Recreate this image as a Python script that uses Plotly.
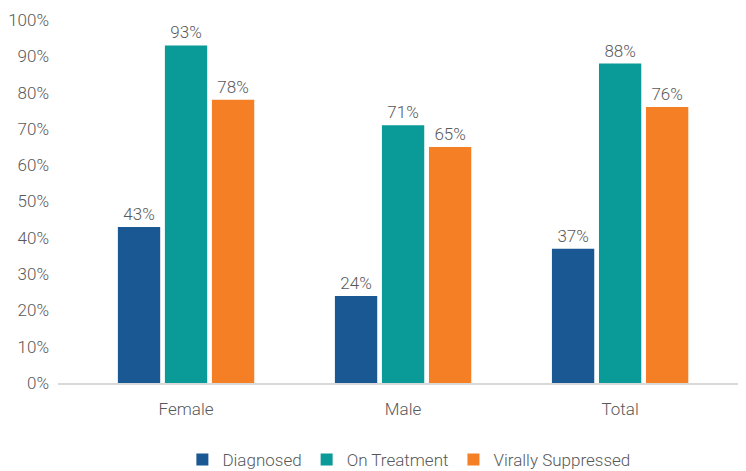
import plotly.graph_objects as go

categories = ["Female", "Male", "Total"]
series_names = ["Diagnosed", "On Treatment", "Virally Suppressed"]
diagnosed = [43, 24, 37]
on_treatment = [93, 71, 88]
virally_suppressed = [78, 65, 76]
colors = ["#1A5894", "#0A9A97", "#F47F24"]
y_ticks = list(range(0, 101, 10))
y_tick_labels = [f"{v}%" for v in y_ticks]

FONT = "Roboto, sans-serif"
GRAY = "#595959"
FW = 300

fig = go.Figure()
for name, vals, col in zip(series_names, [diagnosed, on_treatment, virally_suppressed], colors):
    fig.add_trace(go.Bar(
        x=categories, y=vals, name=name, marker=dict(color=col, line=dict(width=0)),
        texttemplate="%{y}%", textposition="outside", cliponaxis=False,
        textfont=dict(family=FONT, size=17, color=GRAY, weight=FW),
    ))

# page body has an 8px default margin, so the figure is sized to fit the window
fig.update_layout(
    width=738, height=463,
    margin=dict(l=50, r=0, t=12, b=88, autoexpand=False),
    paper_bgcolor="white", plot_bgcolor="white",
    barmode="group", bargap=0.35, bargroupgap=0.1,
    font=dict(family=FONT, size=17, color=GRAY, weight=FW),
    showlegend=True,
    legend=dict(orientation="h", x=0.51, xanchor="center", y=-0.212, yanchor="middle",
                font=dict(family=FONT, size=17, color=GRAY, weight=FW), itemsizing="constant",
                traceorder="normal", itemwidth=30),
    xaxis=dict(type="category", range=[-0.59, 2.58], showgrid=False, showline=True,
               linecolor="#D9D9D9", linewidth=2, ticks="", ticklabelstandoff=10,
               tickfont=dict(family=FONT, size=17, color=GRAY, weight=FW)),
    yaxis=dict(range=[0, 100], tickvals=y_ticks, ticktext=y_tick_labels, showgrid=False,
               zeroline=False, showline=False, ticks="", ticklabelstandoff=8,
               tickfont=dict(family=FONT, size=17, color=GRAY, weight=FW)),
)

fig.write_html("out.html")
